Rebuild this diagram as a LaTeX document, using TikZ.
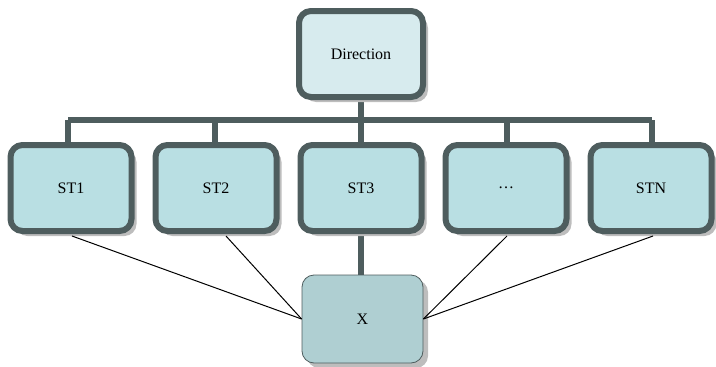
\documentclass[tikz,border=0pt]{standalone}
\usepackage{fontspec}
\setmainfont{Liberation Serif}
\usetikzlibrary{shadows}
\definecolor{edge}{HTML}{4E5D5E}
\definecolor{headfill}{HTML}{D7EBEE}
\definecolor{unitfill}{HTML}{B9DFE3}
\definecolor{xfill}{HTML}{AFCFD2}
\definecolor{shade}{HTML}{BDBDBD}
\tikzset{
  x=1pt, y=-1pt,
  box/.style={draw=edge, line width=6pt, rounded corners=12pt,
    minimum width=121pt, minimum height=86pt, inner sep=0pt,
    font=\fontsize{16}{18}\selectfont,
    drop shadow={shadow xshift=5pt, shadow yshift=-5pt, fill=shade, opacity=1}},
  headbox/.style={box, fill=headfill, minimum width=124pt},
  unitbox/.style={box, fill=unitfill},
  xbox/.style={draw=edge, line width=0.8pt, fill=xfill, rounded corners=12pt,
    minimum width=121pt, minimum height=88pt, inner sep=0pt,
    font=\fontsize{16}{18}\selectfont,
    drop shadow={shadow xshift=5pt, shadow yshift=-5pt, fill=shade, opacity=1}},
  bus/.style={draw=edge, line width=6pt},
  link/.style={draw=black, line width=1pt}
}
\begin{document}
\begin{tikzpicture}
\useasboundingbox (0,0) rectangle (716,367);
% tree connectors (drawn first, under the boxes)
\coordinate (busL) at (68,120);
\coordinate (busR) at (652,120);
\draw[bus] (361,60) -- (361,120);
\draw[bus] (busL) -- (busR);
\foreach \xx in {68,215,361,507,652} \draw[bus] (\xx,120) -- (\xx,170);
\draw[bus] (361,200) -- (361,300);
% boxes
\node[headbox] (dir) at (361,54) {Direction};
\node[unitbox] (st1) at (71,188) {ST1};
\node[unitbox] (st2) at (216,188) {ST2};
\node[unitbox] (st3) at (361,188) {ST3};
\node[unitbox] (dots) at (506,188) {\ldots};
\node[unitbox] (stn) at (651,188) {STN};
\node[xbox] (x) at (362.5,319) {X};
% thin links into X
\draw[link] (st1.south) ++(1,2) -- (x.west);
\draw[link] (st2.south) ++(10,2) -- (x.west);
\draw[link] (dots.south) ++(1,2) -- (x.east);
\draw[link] (stn.south) ++(2,2) -- (x.east);
\end{tikzpicture}
\end{document}
